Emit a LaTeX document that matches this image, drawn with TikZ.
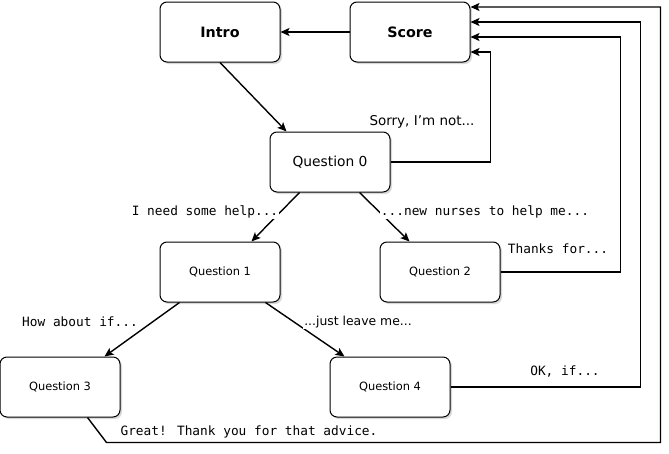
\documentclass[tikz,border=0pt]{standalone}
\usepackage{fontspec}
\setmainfont{DejaVu Sans}
\newfontfamily\monof{DejaVu Sans Mono}
\usetikzlibrary{arrows.meta,shadows}
\begin{document}
\begin{tikzpicture}[x=1pt,y=-1pt,
  box/.style={draw,line width=1pt,rounded corners=7pt,fill=white,minimum width=120pt,minimum height=60pt,inner sep=0pt,
    drop shadow={opacity=0.3,shadow xshift=2pt,shadow yshift=-2pt}},
  conn/.style={line width=1.4pt,-{Stealth[length=9pt,width=8pt,inset=2pt]}},
  mlab/.style={font=\monof\fontsize{12.8}{14}\selectfont,inner sep=1pt},
  slab/.style={font=\fontsize{12.4}{14}\selectfont,inner sep=1pt}]
\useasboundingbox (0,0) rectangle (669,453);
\node[box,font=\bfseries\fontsize{14.3}{16}\selectfont] (intro) at (220,32) {Intro};
\node[box,font=\bfseries\fontsize{14.3}{16}\selectfont] (score) at (410,32) {Score};
\node[box,font=\fontsize{13.8}{16}\selectfont] (q0) at (330,162) {Question 0};
\node[box,font=\fontsize{11.4}{13}\selectfont] (q1) at (220,272) {Question 1};
\node[box,font=\fontsize{11.4}{13}\selectfont] (q2) at (440,272) {Question 2};
\node[box,font=\fontsize{11.4}{13}\selectfont] (q3) at (60,387) {Question 3};
\node[box,font=\fontsize{11.4}{13}\selectfont] (q4) at (390,387) {Question 4};

\draw[conn] (score.west) -- (intro.east);
\draw[conn] (intro.south) -- ([xshift=17pt]q0.north west);
\draw[conn] ([xshift=30pt]q0.south west) -- ([xshift=92pt]q1.north west);
\draw[conn] ([xshift=90pt]q0.south west) -- ([xshift=30pt]q2.north west);
\draw[conn] ([xshift=20pt]q1.south west) -- ([xshift=105pt]q3.north west);
\draw[conn] ([xshift=106pt]q1.south west) -- ([xshift=15pt]q4.north west);
\draw[conn] (q0.east) -- ++(100,0) |- ([yshift=-20pt]score.east);
\draw[conn] (q2.east) -- ++(120,0) |- ([yshift=-5pt]score.east);
\draw[conn] (q4.east) -- ++(190,0) |- ([yshift=10pt]score.east);
\draw[conn] ([xshift=88pt]q3.south west) -- ++(19,25) -- ++(554,0) |- ([yshift=25pt]score.east);

\node[slab,font=\fontsize{13.5}{15}\selectfont] (l0) at (422,122) {Sorry, I'm not...};
\node[mlab,fill=white] (l1) at (205,212) {I need some help...};
\node[mlab,fill=white] (l2) at (485,212) {...new nurses to help me...};
\node[mlab] (l3) at (558,249) {Thanks for...};
\node[mlab] (l4) at (80,322) {How about if...};
\node[slab,fill=white] (l5) at (358,322) {...just leave me...};
\node[mlab] (l6) at (565,372) {OK, if...};
\node[mlab] (l7) at (249,432) {Great! Thank you for that advice.};
\end{tikzpicture}
\end{document}
